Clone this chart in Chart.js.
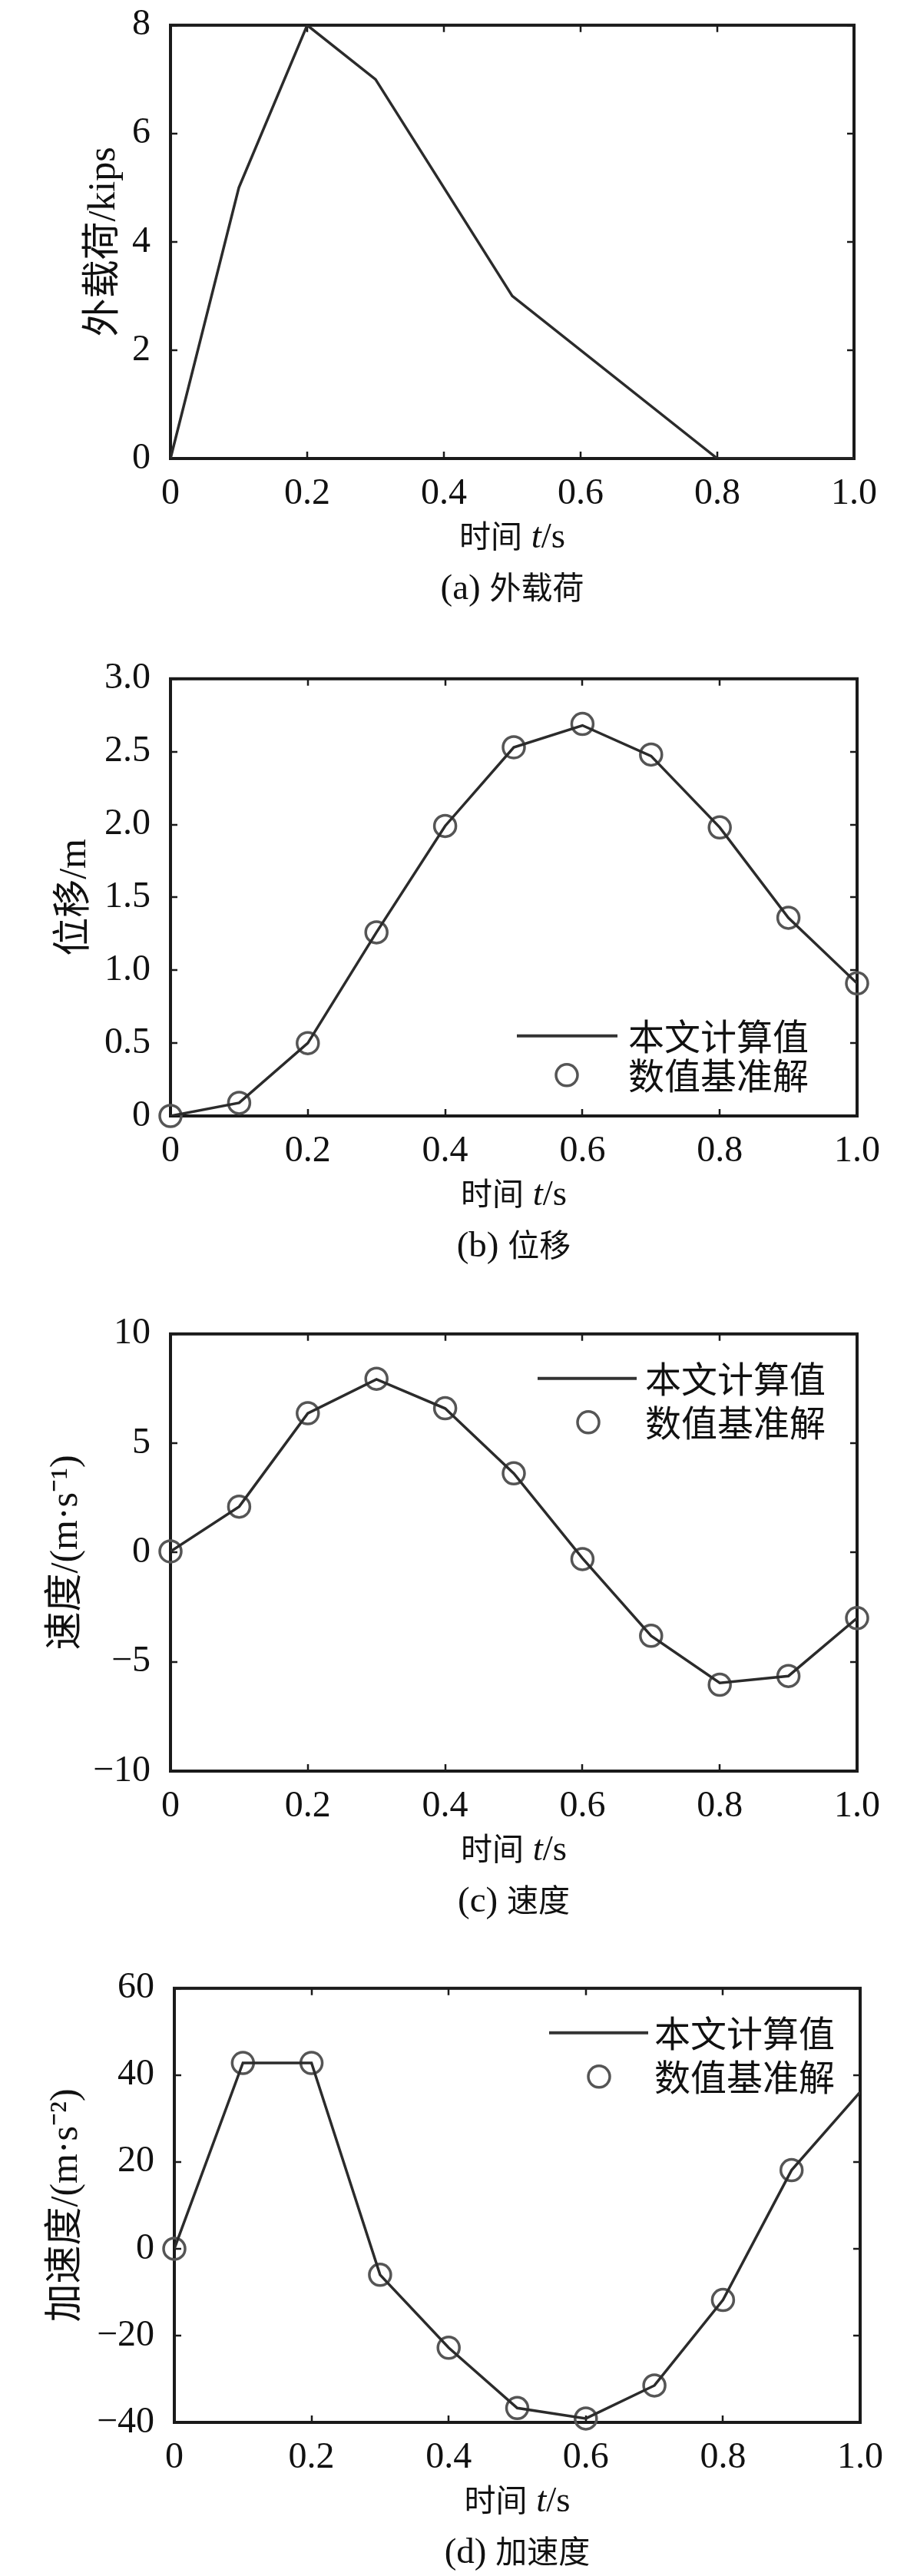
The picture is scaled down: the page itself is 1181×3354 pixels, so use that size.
<!DOCTYPE html>
<html>
<head>
<meta charset="utf-8">
<script src="https://cdn.jsdelivr.net/npm/chart.js@4"></script>
<style>
  body { margin: 0; background: #fff; }
  #page { position: relative; width: 1181px; height: 3354px; overflow: hidden; }
  canvas { position: absolute; left: 0; }
  .lbl { position: absolute; width: 600px; text-align: center; white-space: nowrap;
         font-family: 'Liberation Serif', serif; font-size: 47px; color: #111; line-height: 1; }
  .cjk { font-family: 'Noto Sans CJK SC', sans-serif; font-size: 41px; }
</style>
</head>
<body>
<div id="page">
  <canvas id="chartA"></canvas>
  <canvas id="chartB"></canvas>
  <canvas id="chartC"></canvas>
  <canvas id="chartD"></canvas>
</div>
<script>
// time axis
const timeTicks = [0, 0.2, 0.4, 0.6, 0.8, 1.0];
const timeSteps = [0, 0.1, 0.2, 0.3, 0.4, 0.5, 0.6, 0.7, 0.8, 0.9, 1.0];

// (a) external load
const loadTimes = [0, 0.1, 0.2, 0.3, 0.5, 0.8, 1.0];
const loadValues = [0, 5, 8, 7, 3, 0, 0];

// (b) displacement
const dispLine = [0.0, 0.09, 0.50, 1.26, 1.99, 2.53, 2.68, 2.47, 1.98, 1.36, 0.91];
const dispRef = [0.0, 0.09, 0.50, 1.26, 1.99, 2.53, 2.69, 2.48, 1.98, 1.36, 0.91];

// (c) velocity
const velLine = [0.05, 2.1, 6.37, 7.92, 6.59, 3.62, -0.26, -3.81, -5.97, -5.65, -3.0];
const velRef = [0.05, 2.1, 6.37, 7.95, 6.6, 3.62, -0.3, -3.81, -6.05, -5.65, -3.0];

// (d) acceleration
const accLine = [0, 42.8, 42.8, -6.0, -22.8, -36.7, -39.1, -31.5, -11.8, 18.1, 36.1];
const accRefTimes = [0, 0.1, 0.2, 0.3, 0.4, 0.5, 0.6, 0.7, 0.8, 0.9];
const accRef = [0, 42.8, 42.8, -6.0, -22.8, -36.7, -39.1, -31.5, -11.8, 18.1];

const legendLabels = ['本文计算值', '数值基准解'];

const latin = "'Liberation Serif', 'Noto Sans CJK SC', serif";
const minus = v => (v < 0 ? '\u2212' + Math.abs(v) : String(v));

function pts(xs, ys) {
    return xs.map((x, i) => ({ x: x, y: ys[i] }));
}

// box round the plot with inward ticks on all four sides
const framePlugin = {
    id: 'frame',
    beforeDatasetsDraw(chart) {
        const { ctx, chartArea: a, scales } = chart;
        ctx.save();
        ctx.strokeStyle = '#1a1a1a';
        ctx.lineWidth = 2.5;
        scales.x.ticks.forEach(t => {
            const px = Math.round(scales.x.getPixelForValue(t.value));
            ctx.beginPath();
            ctx.moveTo(px, a.bottom); ctx.lineTo(px, a.bottom - 9);
            ctx.moveTo(px, a.top); ctx.lineTo(px, a.top + 9);
            ctx.stroke();
        });
        scales.y.ticks.forEach(t => {
            const py = Math.round(scales.y.getPixelForValue(t.value));
            ctx.beginPath();
            ctx.moveTo(a.left, py); ctx.lineTo(a.left + 9, py);
            ctx.moveTo(a.right, py); ctx.lineTo(a.right - 9, py);
            ctx.stroke();
        });
        ctx.lineWidth = 4;
        ctx.strokeRect(a.left, a.top, a.right - a.left, a.bottom - a.top);
        ctx.restore();
    }
};

// legend placed inside the plot area
const boxLegend = {
    id: 'boxLegend',
    afterDraw(chart, args, o) {
        if (!o || !o.show) return;
        const { ctx, chartArea: a } = chart;
        const x0 = a.left, y0 = a.top;
        ctx.save();
        ctx.strokeStyle = '#333';
        ctx.lineWidth = 4;
        ctx.beginPath();
        ctx.moveTo(x0 + o.lineX0, y0 + o.row1);
        ctx.lineTo(x0 + o.lineX1, y0 + o.row1);
        ctx.stroke();
        ctx.strokeStyle = '#555';
        ctx.lineWidth = 3.5;
        ctx.beginPath();
        ctx.arc(x0 + o.circleX, y0 + o.row2, 14, 0, Math.PI * 2);
        ctx.stroke();
        ctx.fillStyle = '#111';
        ctx.font = "47px 'Noto Sans CJK SC'";
        ctx.textBaseline = 'middle';
        ctx.textAlign = 'left';
        ctx.fillText(legendLabels[0], x0 + o.textX, y0 + o.row1);
        ctx.fillText(legendLabels[1], x0 + o.textX, y0 + o.row2);
        ctx.restore();
    }
};

const TOP_PAD = 40, X_AXIS_H = 80;

function makePanel(id, p) {
    const canvas = document.getElementById(id);
    const h = TOP_PAD + (p.bottom - p.top) + X_AXIS_H;
    canvas.width = 1181;
    canvas.height = h;
    canvas.style.top = (p.top - TOP_PAD) + 'px';

    const datasets = [{
        data: p.line,
        showLine: true,
        borderColor: '#2b2b2b',
        borderWidth: 3.5,
        pointRadius: 0,
        tension: 0
    }];
    if (p.ref) {
        datasets.push({
            data: p.ref,
            showLine: false,
            pointRadius: 14,
            pointBorderWidth: 3.5,
            pointBorderColor: '#555',
            pointBackgroundColor: 'rgba(0,0,0,0)',
            clip: false
        });
    }

    new Chart(canvas, {
        type: 'scatter',
        data: { datasets: datasets },
        options: {
            responsive: false,
            animation: false,
            devicePixelRatio: 1,
            layout: { padding: { left: 0, top: TOP_PAD, right: 1181 - p.right, bottom: 0 } },
            plugins: {
                legend: { display: false },
                tooltip: { enabled: false },
                boxLegend: p.legend || { show: false }
            },
            scales: {
                x: {
                    type: 'linear',
                    min: 0,
                    max: 1,
                    afterBuildTicks: s => { s.ticks = timeTicks.map(v => ({ value: v })); },
                    afterFit: s => { s.height = X_AXIS_H; },
                    grid: { display: false },
                    border: { display: false },
                    ticks: {
                        padding: 10,
                        color: '#111',
                        font: { family: latin, size: 48 },
                        maxRotation: 0,
                        callback: v => (v === 0 ? '0' : v.toFixed(1))
                    }
                },
                y: {
                    type: 'linear',
                    min: p.yMin,
                    max: p.yMax,
                    afterBuildTicks: s => { s.ticks = p.yTicks.map(v => ({ value: v })); },
                    afterFit: s => { s.width = p.left; },
                    grid: { display: false },
                    border: { display: false },
                    ticks: {
                        padding: 18,
                        color: '#111',
                        font: { family: latin, size: 48 },
                        callback: p.yFmt
                    },
                    title: {
                        display: true,
                        text: p.yTitle,
                        color: '#111',
                        font: { family: latin, size: 50 },
                        padding: { top: p.titleX - 30, bottom: 0 }
                    }
                }
            }
        },
        plugins: [framePlugin, boxLegend]
    });

    // x title and caption as page text
    const cx = (p.left + p.right) / 2;
    const t = document.createElement('div');
    t.className = 'lbl';
    t.style.left = (cx - 300) + 'px';
    t.style.top = (p.bottom + 101 - 24) + 'px';
    t.innerHTML = '<span class="cjk">时间</span> <i>t</i>/s';
    document.getElementById('page').appendChild(t);
    const c = document.createElement('div');
    c.className = 'lbl';
    c.style.left = (cx - 300) + 'px';
    c.style.top = (p.bottom + 168 - 24) + 'px';
    c.innerHTML = p.caption;
    document.getElementById('page').appendChild(c);
}

makePanel('chartA', {
    left: 222, right: 1112, top: 26, bottom: 597,
    line: pts(loadTimes, loadValues),
    yMin: 0, yMax: 8, yTicks: [0, 2, 4, 6, 8],
    yFmt: v => String(v),
    yTitle: '外载荷/kips', titleX: 136,
    caption: '(a) <span class="cjk">外载荷</span>'
});

makePanel('chartB', {
    left: 222, right: 1116, top: 877, bottom: 1453,
    line: pts(timeSteps, dispLine),
    ref: pts(timeSteps, dispRef),
    yMin: 0, yMax: 3, yTicks: [0, 0.5, 1, 1.5, 2, 2.5, 3],
    yFmt: v => (v === 0 ? '0' : v.toFixed(1)),
    yTitle: '位移/m', titleX: 98,
    caption: '(b) <span class="cjk">位移</span>',
    legend: { show: true, lineX0: 451, lineX1: 582, row1: 465, row2: 516, circleX: 516, textX: 596 }
});

makePanel('chartC', {
    left: 222, right: 1116, top: 1730, bottom: 2306,
    line: pts(timeSteps, velLine),
    ref: pts(timeSteps, velRef),
    yMin: -10, yMax: 10, yTicks: [-10, -5, 0, 5, 10],
    yFmt: minus,
    yTitle: '速度/(m·s⁻¹)', titleX: 87,
    caption: '(c) <span class="cjk">速度</span>',
    legend: { show: true, lineX0: 478, lineX1: 607, row1: 58, row2: 115, circleX: 544, textX: 618 }
});

makePanel('chartD', {
    left: 227, right: 1120, top: 2582, bottom: 3154,
    line: pts(timeSteps, accLine),
    ref: pts(accRefTimes, accRef),
    yMin: -40, yMax: 60, yTicks: [-40, -20, 0, 20, 40, 60],
    yFmt: minus,
    yTitle: '加速度/(m·s⁻²)', titleX: 87,
    caption: '(d) <span class="cjk">加速度</span>',
    legend: { show: true, lineX0: 488, lineX1: 617, row1: 58, row2: 115, circleX: 553, textX: 625 }
});
</script>
</body>
</html>
